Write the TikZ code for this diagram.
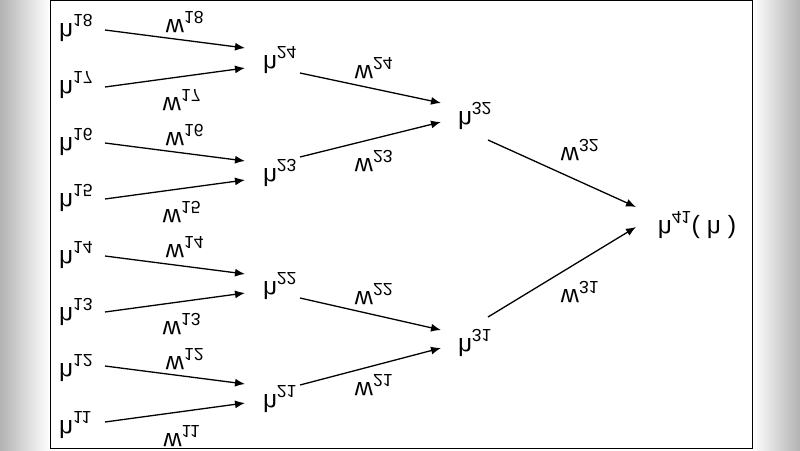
\documentclass[tikz,border=0pt]{standalone}
\usepackage{fontspec}
\setmainfont{Liberation Sans}
\usepackage{graphicx}
\usetikzlibrary{arrows.meta}
\newcommand\flx[1]{\raisebox{0.52em}{\scalebox{1}[-1]{#1}}}
\newcommand\fld[1]{\raisebox{0.72em}{\scalebox{1}[-1]{#1}}}
\newcommand\hv[1]{\flx{h}\textsuperscript{\fld{#1}}}
\newcommand\wv[1]{\flx{w}\textsuperscript{\fld{#1}}}
\begin{document}
\begin{tikzpicture}[x=1pt,y=-1pt,
  lab/.style={font=\fontsize{25}{28}\selectfont,inner sep=1pt},
  wl/.style={font=\fontsize{25}{28}\selectfont,inner sep=1pt},
  arr/.style={-{Latex[length=10pt,width=8pt]},line width=1.3pt}]
\useasboundingbox (0,0) rectangle (800,450);
\shade[left color=gray!60,right color=white] (0,0) rectangle (50,450);
\shade[left color=white,right color=gray!60] (752,0) rectangle (800,450);
\draw[fill=white,line width=1pt] (50,0.5) rectangle (752,448);
\foreach \i/\y/\n in {1/28/18,2/85/17,3/142/16,4/198/15,5/255/14,6/312/13,7/368/12,8/425/11}{
  \node[lab,anchor=west] (a\n) at (58,\y) {\hv{\n}};
}
\node[lab] (b24) at (280,60) {\hv{24}};
\node[lab] (b23) at (280,173) {\hv{23}};
\node[lab] (b22) at (280,286) {\hv{22}};
\node[lab] (b21) at (280,399) {\hv{21}};
\node[lab] (c32) at (475,116) {\hv{32}};
\node[lab] (c31) at (475,343) {\hv{31}};
\node[lab] (d) at (697,225) {\hv{41}( \flx{h} )};
\foreach \s/\t/\yo/\yt in {18/24/30/48,17/24/87/68,16/23/143/161,15/23/199/180,14/22/256/274,13/22/312/293,12/21/366/384,11/21/422/403}{
  \coordinate (s\s) at (105,\yo); \coordinate (t\s) at (245,\yt);
  \draw[arr] (s\s) -- (t\s);
}
\foreach \n/\x/\y in {18/185/22,17/182/100,16/185/135,15/182/212,14/185/247,13/182/324,12/185/359,11/182/436}{
  \node[wl] (w\n) at (\x,\y) {\wv{\n}};
}
\coordinate (u24) at (300,73); \coordinate (v24) at (441,103);
\coordinate (u23) at (300,157); \coordinate (v23) at (441,122);
\coordinate (u22) at (300,298); \coordinate (v22) at (441,330);
\coordinate (u21) at (300,385); \coordinate (v21) at (441,348);
\foreach \n in {24,23,22,21}{\draw[arr] (u\n) -- (v\n);}
\node[wl] at (374,68) {\wv{24}};
\node[wl] at (374,161) {\wv{23}};
\node[wl] at (374,294) {\wv{22}};
\node[wl] at (374,385) {\wv{21}};
\coordinate (p32) at (488,140); \coordinate (q32) at (636,207);
\coordinate (p31) at (488,317); \coordinate (q31) at (636,227);
\draw[arr] (p32) -- (q32);
\draw[arr] (p31) -- (q31);
\node[wl] at (580,150) {\wv{32}};
\node[wl] at (580,292) {\wv{31}};
\end{tikzpicture}
\end{document}
